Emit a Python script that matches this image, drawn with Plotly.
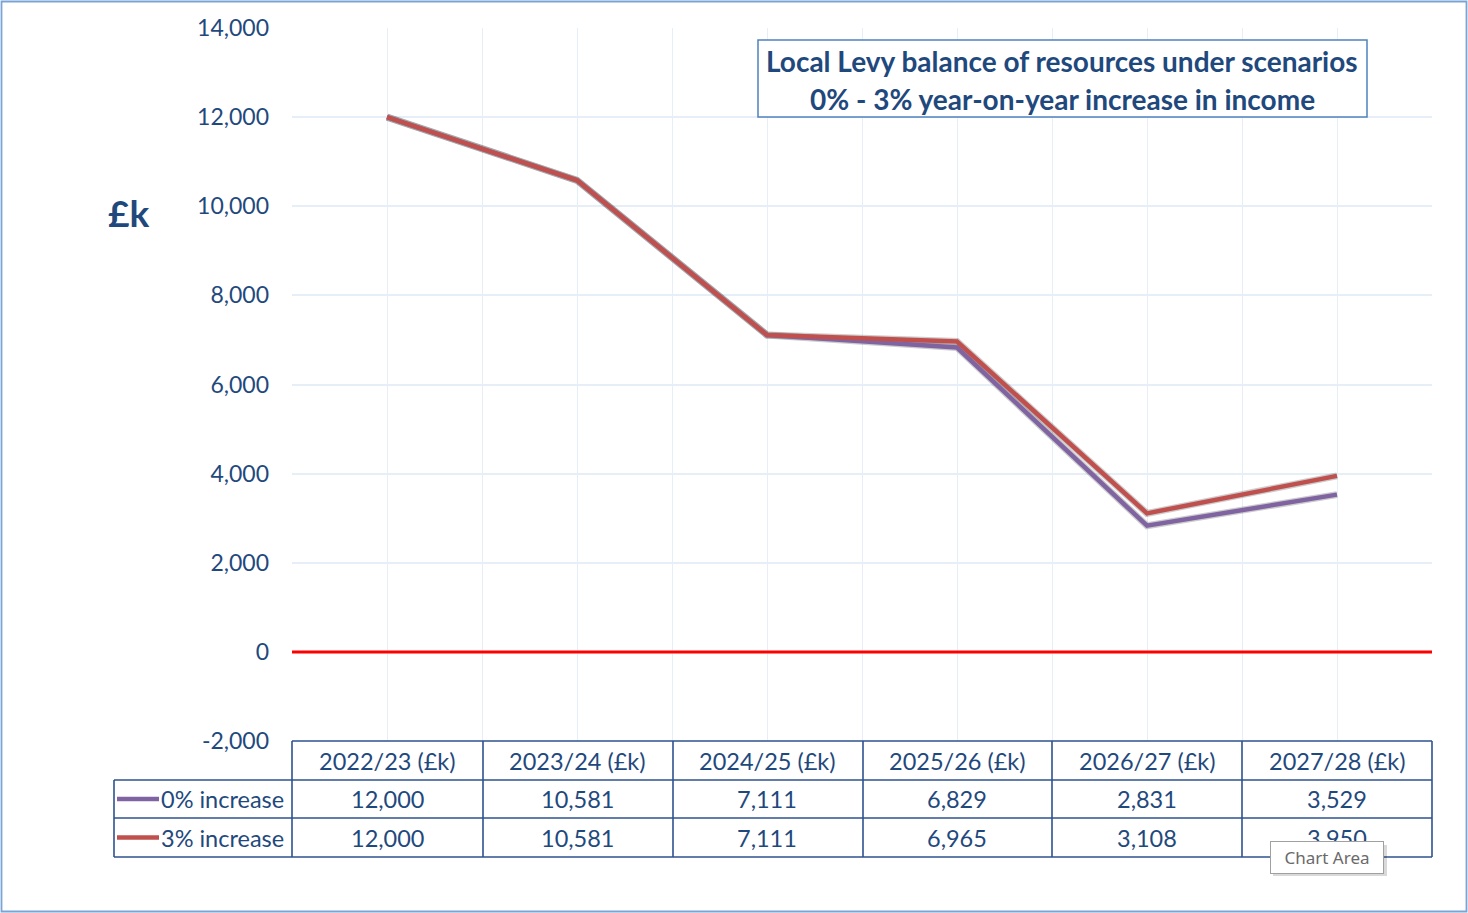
import plotly.graph_objects as go

# ---------------- data ----------------
categories = ["2022/23 (£k)", "2023/24 (£k)", "2024/25 (£k)", "2025/26 (£k)", "2026/27 (£k)", "2027/28 (£k)"]
series_names = ["0% increase", "3% increase"]
values_0pct = [12000, 10581, 7111, 6829, 2831, 3529]
values_3pct = [12000, 10581, 7111, 6965, 3108, 3950]
y_tick_values = [-2000, 0, 2000, 4000, 6000, 8000, 10000, 12000, 14000]
y_tick_labels = [f"{v:,}" for v in y_tick_values]
title_lines = ["Local Levy balance of resources under scenarios", "0% - 3% year-on-year increase in income"]
y_unit_label = "£k"

# ---------------- style ----------------
W, H = 1468, 913
FONT = "Lato"
TXT = "#1F497D"
PURPLE = "#8064A2"
RED = "#C0504D"
GRID = "#E6EEF8"
TABLE_LINE = "#2F528F"

PLOT_L, PLOT_R, PLOT_T, PLOT_B = 292, 1432, 28, 741


def px(x):
    return x / W


def py(y):
    return 1 - y / H


x_idx = list(range(len(categories)))
series = [(series_names[0], values_0pct, PURPLE), (series_names[1], values_3pct, RED)]
xr = [-0.5, len(categories) - 0.5]
yr = [-2000, 14000]

fig = go.Figure()

# soft shadows (same data on an overlay axis pair shifted a few pixels)
for name, vals, col in series:
    fig.add_trace(go.Scatter(x=x_idx, y=vals, mode="lines", xaxis="x2", yaxis="y2",
                             line=dict(color="rgba(50,50,50,0.25)", width=7),
                             hoverinfo="skip", showlegend=False))
# main lines on an unshifted overlay axis pair (drawn above shadows)
for name, vals, col in series:
    fig.add_trace(go.Scatter(x=x_idx, y=vals, mode="lines", name=name, xaxis="x3", yaxis="y3",
                             line=dict(color=col, width=4.5), showlegend=False))

shift_x, shift_y = 2, 3
fig.update_layout(
    template="none",
    width=W, height=H,
    margin=dict(l=0, r=0, t=0, b=0, pad=0, autoexpand=False),
    paper_bgcolor="white", plot_bgcolor="white",
    xaxis=dict(domain=[px(PLOT_L), px(PLOT_R)], range=xr, automargin=False,
               tick0=-0.5, dtick=0.5, showticklabels=False, ticks="",
               showgrid=True, gridcolor=GRID, gridwidth=1.2, zeroline=False, showline=False),
    yaxis=dict(domain=[py(PLOT_B), py(PLOT_T)], range=yr, automargin=False,
               tickvals=y_tick_values, ticktext=y_tick_labels, ticklabelstandoff=22,
               tickfont=dict(family=FONT, size=23, color=TXT),
               showgrid=True, gridcolor=GRID, gridwidth=1.5, zeroline=False, showline=False, ticks=""),
    xaxis2=dict(domain=[px(PLOT_L + shift_x), px(PLOT_R + shift_x)], range=xr,
                overlaying="x", visible=False, anchor="y2"),
    yaxis2=dict(domain=[py(PLOT_B + shift_y), py(PLOT_T + shift_y)], range=yr,
                overlaying="y", visible=False, anchor="x2"),
    xaxis3=dict(domain=[px(PLOT_L), px(PLOT_R)], range=xr, overlaying="x", visible=False, anchor="y3"),
    yaxis3=dict(domain=[py(PLOT_B), py(PLOT_T)], range=yr, overlaying="y", visible=False, anchor="x3"),
    showlegend=False,
)

shapes = []
# zero line
shapes.append(dict(type="line", xref="paper", yref="y", x0=px(PLOT_L), x1=px(PLOT_R), y0=0, y1=0,
                   line=dict(color="#FF0000", width=3), layer="above"))

# data table borders
col_edges = [292, 483, 673, 863, 1052, 1242, 1432]
row_edges = [741, 780, 818, 857]
LEG_L = 114
tl = dict(color=TABLE_LINE, width=1.6)
shapes.append(dict(type="line", xref="paper", yref="paper", x0=px(col_edges[0]), x1=px(col_edges[-1]),
                   y0=py(row_edges[0]), y1=py(row_edges[0]), line=tl))
for r in row_edges[1:]:
    shapes.append(dict(type="line", xref="paper", yref="paper", x0=px(LEG_L), x1=px(col_edges[-1]),
                       y0=py(r), y1=py(r), line=tl))
for c in col_edges:
    shapes.append(dict(type="line", xref="paper", yref="paper", x0=px(c), x1=px(c),
                       y0=py(row_edges[0]), y1=py(row_edges[-1]), line=tl))
shapes.append(dict(type="line", xref="paper", yref="paper", x0=px(LEG_L), x1=px(LEG_L),
                   y0=py(row_edges[1]), y1=py(row_edges[-1]), line=tl))

# legend keys in table
row_centers = [(row_edges[i] + row_edges[i + 1]) / 2 for i in range(3)]
for i, (name, vals, col) in enumerate(series):
    yc = row_centers[i + 1]
    shapes.append(dict(type="line", xref="paper", yref="paper", x0=px(117), x1=px(159),
                       y0=py(yc), y1=py(yc), line=dict(color=col, width=4.5)))

# title box
shapes.append(dict(type="rect", xref="paper", yref="paper", x0=px(758), x1=px(1367), y0=py(40), y1=py(117),
                   line=dict(color="#4F81BD", width=1.5), fillcolor="white", layer="above"))

# outer border
shapes.append(dict(type="rect", xref="paper", yref="paper", x0=px(1.5), x1=px(W - 1.5), y0=py(1.5), y1=py(H - 1.5),
                   line=dict(color="#7AA3D6", width=1.8)))

# tooltip shadow
shapes.append(dict(type="rect", xref="paper", yref="paper", x0=px(1273), x1=px(1387), y0=py(845), y1=py(876),
                   line=dict(width=0), fillcolor="rgba(0,0,0,0.15)", layer="above"))

annotations = []
# title
for i, t in enumerate(title_lines):
    annotations.append(dict(xref="paper", yref="paper", x=px(1062), y=py([61, 99][i]), text=f"<b>{t}</b>",
                            showarrow=False, xanchor="center", yanchor="middle",
                            font=dict(family=FONT, size=28, color=TXT)))
# unit label
annotations.append(dict(xref="paper", yref="paper", x=px(128), y=py(213), text=f"<b>{y_unit_label}</b>",
                        showarrow=False, xanchor="center", yanchor="middle",
                        font=dict(family=FONT, size=37, color=TXT)))
# table header + values
TF = 23.5
for i, cat in enumerate(categories):
    annotations.append(dict(xref="x", yref="paper", x=i, y=py(row_centers[0]), text=cat, showarrow=False,
                            xanchor="center", yanchor="middle", font=dict(family=FONT, size=TF, color=TXT)))
    for r, (name, vals, col) in enumerate(series):
        annotations.append(dict(xref="x", yref="paper", x=i, y=py(row_centers[r + 1]), text=f"{vals[i]:,}",
                                showarrow=False, xanchor="center", yanchor="middle",
                                font=dict(family=FONT, size=TF, color=TXT)))
for r, (name, vals, col) in enumerate(series):
    annotations.append(dict(xref="paper", yref="paper", x=px(159), y=py(row_centers[r + 1]), text=name,
                            showarrow=False, xanchor="left", yanchor="middle",
                            font=dict(family=FONT, size=TF, color=TXT)))
# tooltip
annotations.append(dict(xref="paper", yref="paper", x=px(1326.5), y=py(857), text="Chart Area", showarrow=False,
                        xanchor="center", yanchor="middle", bgcolor="white", bordercolor="#A0A0A0",
                        borderwidth=1, borderpad=4, width=104,
                        font=dict(family="Noto Sans", size=17, color="#6A6A6A")))

fig.update_layout(shapes=shapes, annotations=annotations)
fig.write_html("out.html", config={"displayModeBar": False},
               post_script="document.body.style.margin='0';document.body.style.overflow='hidden';")
